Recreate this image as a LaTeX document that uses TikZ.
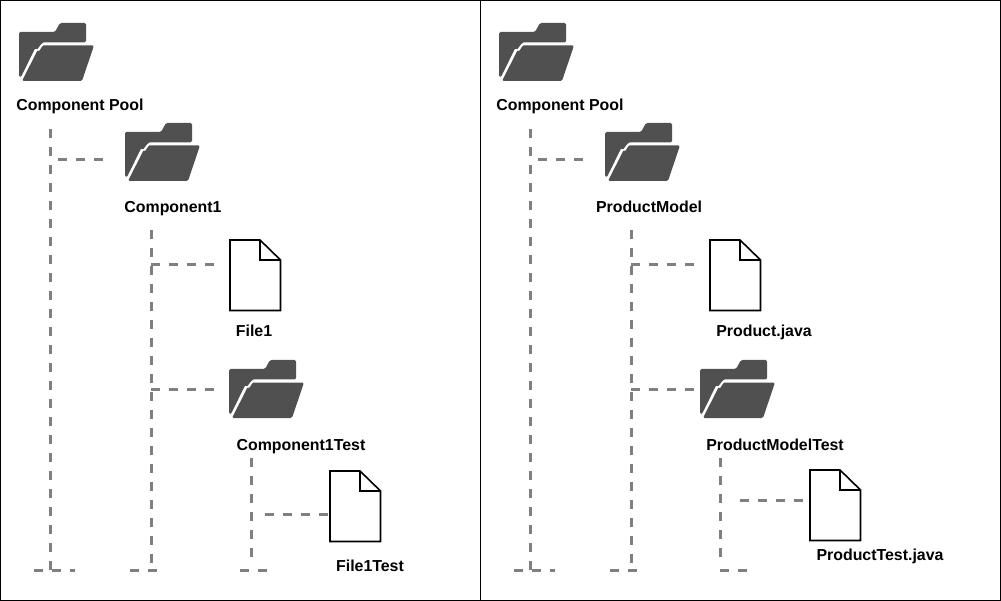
\documentclass[tikz,border=0pt]{standalone}
\usepackage{fontspec}
\setmainfont{Liberation Sans}
\definecolor{foldergrey}{HTML}{505050}
\definecolor{linkgrey}{HTML}{808080}
\tikzset{
  x=1pt,y=-1pt,
  panel/.style={draw=black,line width=1pt,fill=white},
  link/.style={draw=linkgrey,line width=3pt,dash pattern=on 9pt off 9pt},
  label/.style={font=\fontsize{15.9}{18}\selectfont\bfseries,text=black,inner sep=0pt,anchor=base},
  folder/.pic={
    \fill[foldergrey,rounded corners=1.5pt] (1,9) -- (37,9) -- (42,0) -- (68,0) -- (68,19.5) -- (27,19.5) to[out=180,in=-62] (17.5,24.5) -- (3,54) -- (1,54) -- cycle;
    \fill[foldergrey,rounded corners=1.5pt] (20,26.5) to[out=-62,in=180] (27,22.5) -- (76,22.5) -- (64,58) -- (4,58) -- cycle;
  },
  file/.pic={
    \draw[black,line width=1.6pt,fill=white,line join=miter] (0,0) -- (30,0) -- (50.5,20) -- (50.5,70.5) -- (0,70.5) -- cycle;
    \draw[black,line width=1.6pt] (30,0) -- (30,20) -- (50.5,20);
  }
}
\begin{document}
\begin{tikzpicture}
\useasboundingbox (0,0) rectangle (1001,601);
\fill[white] (0,0) rectangle (1001,601);
\draw[panel] (0.5,0.5) rectangle (480.5,600.5);
\draw[panel] (480.5,0.5) rectangle (1000.5,600.5);

% left panel
\pic at (18,23) {folder};
\pic at (124,123) {folder};
\pic at (228,360) {folder};
\pic at (230,240) {file};
\pic at (330,471) {file};
\node[label] (lp) at (80,111) {Component Pool};
\node[label] (lc) at (173,213) {Component1};
\node[label] (lf) at (254,337) {File1};
\node[label] (lt) at (301,450) {Component1Test};
\node[label] (lft) at (370,571) {File1Test};

\coordinate (a1) at (50,129);  \coordinate (a2) at (50,570);
\coordinate (a3) at (34,570);  \coordinate (a4) at (75,570);
\coordinate (a5) at (58,160);  \coordinate (a6) at (105,160);
\coordinate (b1) at (151,230); \coordinate (b2) at (151,570);
\coordinate (b3) at (130,570); \coordinate (b4) at (158,570);
\coordinate (b5) at (151,265); \coordinate (b6) at (215,265);
\coordinate (b7) at (151,389); \coordinate (b8) at (215,389);
\coordinate (c1) at (251,458); \coordinate (c2) at (251,562);
\coordinate (c3) at (240,570); \coordinate (c4) at (268,570);
\coordinate (c5) at (265,514); \coordinate (c6) at (330,514);
\foreach \p/\q in {a1/a2,a3/a4,a5/a6,b1/b2,b3/b4,b5/b6,b7/b8,c1/c2,c3/c4,c5/c6}
  \draw[link] (\p) -- (\q);

% right panel
\pic at (498,23) {folder};
\pic at (604,123) {folder};
\pic at (699,360) {folder};
\pic at (710,240) {file};
\pic at (810,470) {file};
\node[label] (rp) at (560,111) {Component Pool};
\node[label] (rc) at (649,213) {ProductModel};
\node[label] (rf) at (764,337) {Product.java};
\node[label] (rt) at (775,450) {ProductModelTest};
\node[label] (rft) at (880,560) {ProductTest.java};

\coordinate (d1) at (530,129); \coordinate (d2) at (530,570);
\coordinate (d3) at (514,570); \coordinate (d4) at (555,570);
\coordinate (d5) at (538,160); \coordinate (d6) at (585,160);
\coordinate (e1) at (631,230); \coordinate (e2) at (631,570);
\coordinate (e3) at (610,570); \coordinate (e4) at (638,570);
\coordinate (e5) at (631,265); \coordinate (e6) at (695,265);
\coordinate (e7) at (631,389); \coordinate (e8) at (695,389);
\coordinate (f1) at (720,458); \coordinate (f2) at (720,562);
\coordinate (f3) at (720,570); \coordinate (f4) at (748,570);
\coordinate (f5) at (740,500); \coordinate (f6) at (805,500);
\foreach \p/\q in {d1/d2,d3/d4,d5/d6,e1/e2,e3/e4,e5/e6,e7/e8,f1/f2,f3/f4,f5/f6}
  \draw[link] (\p) -- (\q);
\end{tikzpicture}
\end{document}
